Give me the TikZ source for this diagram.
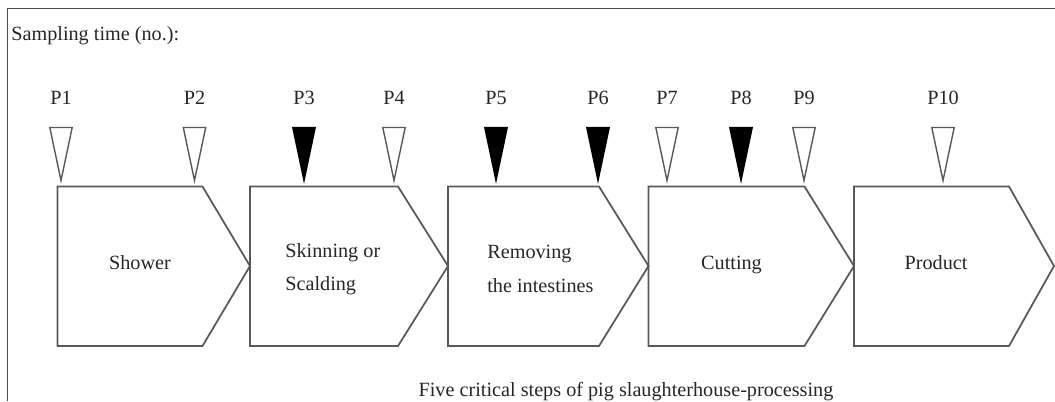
\documentclass[tikz,border=0pt]{standalone}
\usepackage{fontspec}
\setmainfont{Liberation Serif}
\usetikzlibrary{calc}
\tikzset{
  frameline/.style={draw=black!70, line width=0.9pt},
  stagebox/.style={draw=black!65, line width=1pt},
  hollowtri/.style={draw=black!65, fill=white, line width=0.8pt},
  solidtri/.style={draw=black, fill=black, line width=0.8pt},
  lbl/.style={inner sep=0pt, text=black!85, font=\fontsize{11.5}{19}\selectfont},
}
\def\stage(#1:#2:#3){\draw[stagebox] (#1, 4.29) -- (#2, 4.29) -- (#3, 2.7) -- (#2, 1.10) -- (#1, 1.10) -- cycle;}
\def\sampler[#1](#2:#3){\draw[#1] (#2-0.224, 5.47) -- (#2+0.224, 5.47) -- (#2, 4.41) -- cycle;
  \node[lbl, anchor=base] (#3) at (#2, 5.93) {#3};}

\begin{document}
\begin{tikzpicture}
		%%%%% START %%%%%
		\useasboundingbox (0, 0) rectangle (21.1, 8.02);
		\draw[frameline] (0.15, 0) -- (0.15, 7.85) -- (21.1, 7.85);
		\node[lbl, anchor=base west] (title) at (0.22, 7.21) {Sampling time (no.):};
		
		\sampler[hollowtri](1.22:P1)
		\sampler[hollowtri](3.89:P2)
		\sampler[solidtri](6.08:P3)
		\sampler[hollowtri](7.88:P4)
		\sampler[solidtri](9.92:P5)
		\sampler[solidtri](11.96:P6)
		\sampler[hollowtri](13.34:P7)
		\sampler[solidtri](14.82:P8)
		\sampler[hollowtri](16.08:P9)
		\sampler[hollowtri](18.86:P10)
		
		\stage(1.15:4.05:5.0)
		\stage(5.0:7.96:8.96)
		\stage(8.96:11.98:12.97)
		\stage(12.97:16.09:17.08)
		\stage(17.08:20.18:21.08)
		
		\node[lbl, anchor=base] (shower) at (2.8, 2.64) {Shower};
		\node[lbl, anchor=west, align=left] (scald) at (5.7, 2.64) {Skinning or\\Scalding};
		\node[lbl, anchor=west, align=left] (gut) at (9.74, 2.64) {Removing\\the intestines};
		\node[lbl, anchor=base] (cut) at (14.63, 2.64) {Cutting};
		\node[lbl, anchor=base] (product) at (18.72, 2.64) {Product};
		
		\node[lbl, anchor=base] (caption) at (12.52, 0.10) {Five critical steps of pig slaughterhouse-processing};
		%%%%% END %%%%%
	\end{tikzpicture}
\end{document}
